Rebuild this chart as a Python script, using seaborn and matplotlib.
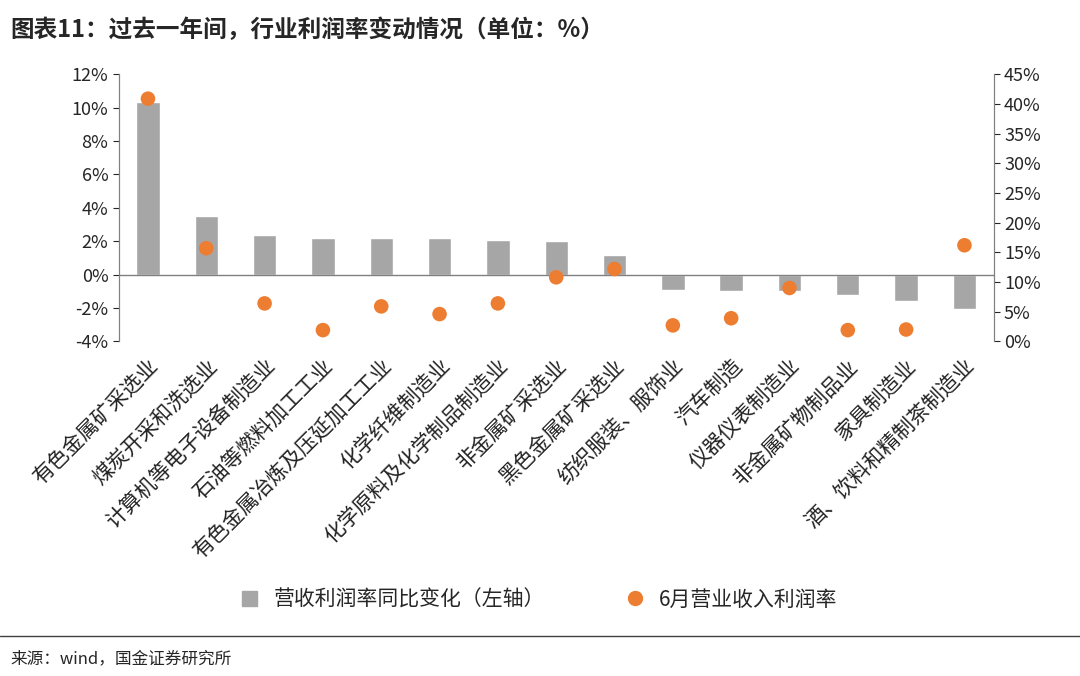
import matplotlib
matplotlib.use("Agg")
import matplotlib.pyplot as plt
import seaborn as sns
import pandas as pd
from matplotlib.lines import Line2D
from matplotlib.patches import Patch

industries = ["有色金属矿采选业", "煤炭开采和洗选业", "计算机等电子设备制造业", "石油等燃料加工工业",
              "有色金属冶炼及压延加工工业", "化学纤维制造业", "化学原料及化学制品制造业", "非金属矿采选业",
              "黑色金属矿采选业", "纺织服装、服饰业", "汽车制造", "仪器仪表制造业",
              "非金属矿物制品业", "家具制造业", "酒、饮料和精制茶制造业"]
margin_change = [10.35, 3.5, 2.4, 2.2, 2.2, 2.2, 2.1, 2.0, 1.2, -0.9, -1.0, -1.0, -1.2, -1.6, -2.05]
june_margin = [40.9, 15.7, 6.4, 1.9, 5.9, 4.6, 6.4, 10.8, 12.2, 2.7, 3.9, 9.0, 1.9, 2.0, 16.2]

df = pd.DataFrame({"industry": industries, "change": margin_change, "june": june_margin})

sns.set_style("white")
plt.rcParams['font.family'] = ['Noto Sans CJK SC', 'DejaVu Sans']
plt.rcParams['axes.unicode_minus'] = False

fig = plt.figure(figsize=(10.8, 6.76), dpi=100)
ax = fig.add_axes([0.110, 0.495, 0.810, 0.395])
sns.barplot(data=df, x="industry", y="change", color="#a6a6a6", width=0.4, ax=ax)
ax.set_ylim(-4, 12)
ax.set_yticks(range(-4, 13, 2))
ax.set_yticklabels([f"{v}%" for v in range(-4, 13, 2)])
ax.axhline(0, color="#808080", lw=1)
ax.set_xlabel("")
ax.set_ylabel("")
ax.set_xlim(-0.5, len(industries) - 0.5)
ax.tick_params(axis="x", length=0, pad=10)
ax.set_xticks(range(len(industries)))
ax.set_xticklabels(industries, rotation=45, ha="right", rotation_mode="anchor",
                   fontsize=15, fontweight="light", color="#222222")
ax.tick_params(axis="y", labelsize=13, direction="out", length=4, left=True)

ax2 = ax.twinx()
sns.scatterplot(data=df, x="industry", y="june", color="#ed7d31", s=110, edgecolor="none", ax=ax2, zorder=3)
ax2.set_ylim(0, 45)
ax2.set_yticks(range(0, 46, 5))
ax2.set_yticklabels([f"{v}%" for v in range(0, 46, 5)])
ax2.set_ylabel("")
ax2.set_xlabel("")
ax2.tick_params(axis="y", labelsize=13, direction="out", length=4, right=True)

for a in (ax, ax2):
    for s in ("top", "bottom"):
        a.spines[s].set_visible(False)
    a.spines["left"].set_color("#808080")
    a.spines["right"].set_color("#808080")

handles = [Patch(color="#a6a6a6", label="营收利润率同比变化（左轴）"),
           Line2D([], [], marker="o", ls="", color="#ed7d31", markersize=10, label="6月营业收入利润率")]
fig.legend(handles=handles, loc="center", bbox_to_anchor=(0.5, 0.113), ncol=2, frameon=False,
           fontsize=15, handlelength=0.7, columnspacing=4)

fig.text(0.01, 0.955, "图表11：过去一年间，行业利润率变动情况（单位：%）", fontsize=17,
         fontweight="bold", style="italic", va="center")
fig.add_artist(Line2D([0.0, 1.0], [0.059, 0.059], color="#404040", lw=1))
fig.text(0.01, 0.025, "来源：wind，国金证券研究所", fontsize=12, va="center")

fig.savefig("out.png", dpi=100)
